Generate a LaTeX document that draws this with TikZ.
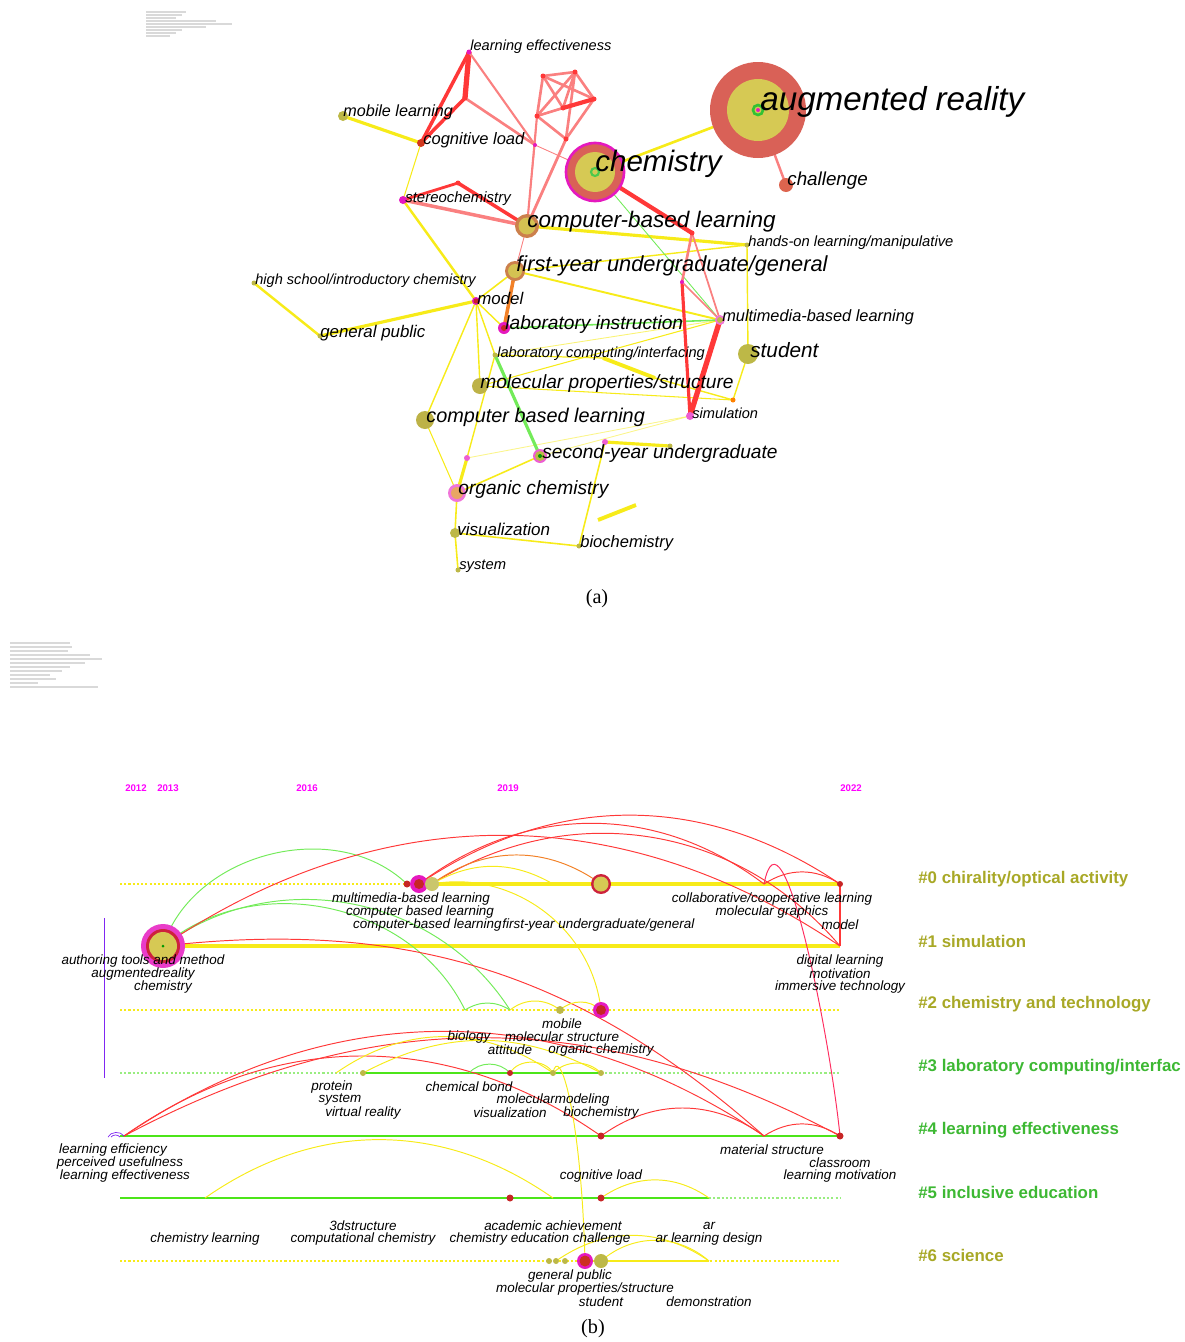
\documentclass[tikz,border=0pt]{standalone}
\usepackage{fontspec}
\setmainfont{Liberation Serif}
\setsansfont{Liberation Sans}
\usepackage{xcolor}
\usepackage{tikz}
\definecolor{LinkRed}{rgb}{1,0.22,0.22}
\definecolor{LinkPink}{rgb}{0.98,0.5,0.5}
\definecolor{LinkYellow}{rgb}{0.97,0.92,0.1}
\definecolor{LinkGreen}{rgb}{0.45,0.92,0.35}
\definecolor{LinkOrange}{rgb}{0.95,0.5,0.15}
\definecolor{RingRed}{rgb}{0.85,0.38,0.34}
\definecolor{RingBrown}{rgb}{0.8,0.5,0.3}
\definecolor{CoreOlive}{rgb}{0.84,0.79,0.33}
\definecolor{DotOlive}{rgb}{0.74,0.72,0.28}
\definecolor{NodeMagenta}{rgb}{0.9,0.1,0.75}
\definecolor{DotRed}{rgb}{0.78,0.15,0.15}
\definecolor{YearMagenta}{rgb}{1,0,1}
\definecolor{ClusterOlive}{rgb}{0.66,0.66,0.15}
\definecolor{ClusterGreen}{rgb}{0.24,0.72,0.2}
\definecolor{RowGreen}{rgb}{0.3,0.9,0.1}
\definecolor{PaleGreen}{rgb}{0.6,0.93,0.5}
\definecolor{Violet}{rgb}{0.5,0.15,0.95}
\tikzset{
  kw/.style={font=\sffamily\itshape\fontsize{#1}{#1}\selectfont, anchor=west, inner sep=0pt, yshift=-1.3pt},
  tl/.style={font=\sffamily\itshape\fontsize{7.65}{7.65}\selectfont, inner sep=0pt, yshift=-0.9pt},
  cluster/.style={font=\sffamily\bfseries\fontsize{9.6}{9.6}\selectfont, anchor=west, inner sep=0pt},
  year/.style={font=\sffamily\bfseries\fontsize{5.5}{5.5}\selectfont, YearMagenta, inner sep=0pt},
  redE/.style={LinkRed, line width=#1},
  pinkE/.style={LinkPink, line width=#1},
  yelE/.style={LinkYellow, line width=#1},
  grnE/.style={LinkGreen, line width=#1},
  dotrow/.style={line width=0.6pt, dash pattern=on 1.2pt off 1.2pt},
  tlarc/.style={line width=0.55pt},
}
\newcommand{\dotat}[3]{\fill[#2] (#1) circle (#3);}

\begin{document}
\begin{tikzpicture}[x=0.02cm, y=0.02cm]
	\useasboundingbox (0,0) rectangle (1185,-1342);
	
	% parameter notes (unreadable small print)
	\foreach \yy/\ww in {12/40, 15/36, 18/30, 21/70, 24/86, 27/60, 30/36, 33/30, 36/24}
		\draw[gray!30, line width=0.6pt] (146,-\yy) -- ++(\ww,0);
	\foreach \yy/\ww in {643/60, 647/62, 651/58, 655/80, 659/92, 663/75, 667/60, 671/52, 675/40, 679/46, 683/28, 687/88}
		\draw[gray!30, line width=0.6pt] (10,-\yy) -- ++(\ww,0);
	
	%%%%%%%%%%%%%%%% (a) network %%%%%%%%%%%%%%%%
	\coordinate (ar) at (758,-110);
	\coordinate (chal) at (786,-185);
	\coordinate (chem) at (595,-172);
	\coordinate (le) at (469,-52);
	\coordinate (lk) at (465,-98);
	\coordinate (ml) at (343,-116);
	\coordinate (cl) at (421,-143);
	\coordinate (pa) at (543,-76);
	\coordinate (pb) at (575,-72);
	\coordinate (pc) at (594,-99);
	\coordinate (pd) at (563,-108);
	\coordinate (pe) at (537,-116);
	\coordinate (pf) at (566,-139);
	\coordinate (hub) at (535,-145);
	\coordinate (st) at (403,-200);
	\coordinate (sb) at (458,-183);
	\coordinate (cbl) at (527,-226);
	\coordinate (kn1) at (692,-233);
	\coordinate (kn2) at (682,-282);
	\coordinate (hands) at (747,-245);
	\coordinate (fy) at (515,-271);
	\coordinate (hs) at (254,-283);
	\coordinate (mod) at (476,-301);
	\coordinate (gp) at (320,-336);
	\coordinate (li) at (504,-328);
	\coordinate (mm) at (720,-320);
	\coordinate (lc) at (495,-355);
	\coordinate (stu) at (748,-354);
	\coordinate (mp) at (480,-386);
	\coordinate (cbl2) at (425,-420);
	\coordinate (sim) at (690,-416);
	\coordinate (od) at (733,-400);
	\coordinate (lcs) at (603,-358);
	\coordinate (lcm) at (655,-378);
	\coordinate (sy) at (540,-456);
	\coordinate (md1) at (605,-442);
	\coordinate (od2) at (670,-446);
	\coordinate (md2) at (467,-458);
	\coordinate (oc) at (457,-493);
	\coordinate (vis) at (455,-533);
	\coordinate (bio) at (579,-546);
	\coordinate (sys) at (458,-570);
	\coordinate (ys1) at (598,-520);
	\coordinate (ys2) at (636,-505);
	
	% links
	\draw[yelE=0.5pt, opacity=0.5] (sy) -- (sim);
	\draw[yelE=0.5pt, opacity=0.5] (md2) -- (sim);
	\draw[yelE=0.5pt, opacity=0.6] (lc) -- (mm);
	\draw[yelE=0.6pt] (mp) -- (mm);
	\draw[yelE=0.6pt] (mp) -- (od);
	\draw[yelE=1.5pt] (ar) -- (chem);
	\draw[yelE=1.8pt] (ml) -- (cl);
	\draw[yelE=0.6pt] (cl) -- (st);
	\draw[yelE=1.4pt] (st) -- (mod);
	\draw[yelE=1.8pt] (cbl) -- (hands);
	\draw[yelE=0.8pt] (fy) -- (hands);
	\draw[yelE=0.8pt] (hands) -- (stu);
	\draw[yelE=1.1pt] (fy) -- (mm);
	\draw[yelE=0.9pt] (fy) -- (mod);
	\draw[yelE=1.4pt] (hs) -- (gp);
	\draw[yelE=1.8pt] (gp) -- (mod);
	\draw[yelE=0.8pt] (mod) -- (li);
	\draw[yelE=0.8pt] (mod) -- (lc);
	\draw[yelE=0.8pt] (mod) -- (mp);
	\draw[yelE=0.8pt] (mod) -- (cbl2);
	\draw[yelE=0.7pt] (lc) -- (lcs);
	\draw[yelE=2.2pt] (lcs) -- (lcm);
	\draw[yelE=0.8pt] (lcm) -- (od);
	\draw[yelE=0.8pt] (stu) -- (od);
	\draw[yelE=0.6pt] (cbl2) -- (oc);
	\draw[yelE=1.8pt] (oc) -- (md2);
	\draw[yelE=0.8pt] (md2) -- (lc);
	\draw[yelE=0.9pt] (oc) -- (sy);
	\draw[yelE=0.9pt] (oc) -- (vis);
	\draw[yelE=0.9pt] (vis) -- (bio);
	\draw[yelE=0.9pt] (vis) -- (sys);
	\draw[yelE=0.9pt] (bio) -- (md1);
	\draw[yelE=1.8pt] (md1) -- (od2);
	\draw[yelE=2.2pt] (ys1) -- (ys2);
	\draw[grnE=0.9pt] (li) -- (mm);
	\draw[grnE=1.8pt] (lc) -- (sy);
	\draw[grnE=0.5pt] (chem) -- (mm);
	\draw[LinkOrange, line width=2pt] (fy) -- (li);
	
	\draw[redE=3pt] (le) -- (lk);
	\draw[redE=2pt] (le) -- (cl);
	\draw[redE=2pt] (lk) -- (cl);
	\draw[pinkE=1.5pt] (lk) -- (hub);
	\draw[pinkE=1.2pt] (le) -- (hub);
	\foreach \a/\b in {pa/pb, pb/pc, pa/pc, pa/pd, pb/pd, pa/pe, pb/pe, pe/pf, pb/pf, pc/pf, pe/pd}
		\draw[pinkE=1.5pt] (\a) -- (\b);
	\draw[redE=2.4pt] (pc) -- (pd);
	\draw[pinkE=1.6pt] (pf) -- (cbl);
	\draw[pinkE=1.2pt] (pe) -- (cbl);
	\draw[pinkE=0.5pt] (hub) -- (cbl);
	\draw[pinkE=0.5pt] (hub) -- (chem);
	\draw[pinkE=0.5pt] (pe) -- (hub);
	\draw[redE=2.4pt] (chem) -- (kn1);
	\draw[pinkE=1.5pt] (kn1) -- (kn2);
	\draw[pinkE=1pt] (kn1) -- (mm);
	\draw[redE=1.8pt] (kn2) -- (sim);
	\draw[pinkE=1pt] (kn2) -- (mm);
	\draw[redE=3pt] (mm) -- (sim);
	\draw[pinkE=1.4pt] (ar) -- (chal);
	\draw[pinkE=2pt] (st) -- (cbl);
	\draw[redE=1.6pt] (st) -- (sb);
	\draw[redE=2pt] (sb) -- (cbl);
	\draw[pinkE=0.5pt] (cbl) -- (fy);
	
	% keyword circles
	\dotat{ar}{RingRed}{48}
	\dotat{ar}{CoreOlive}{31}
	\draw[green!70!black!80, line width=1.5pt] (ar) circle (5);
	\dotat{ar}{NodeMagenta}{2}
	\draw[NodeMagenta, line width=1.5pt, fill=RingRed] (chem) circle (29);
	\dotat{chem}{CoreOlive}{20}
	\draw[green!70!black!70, line width=1.2pt] (chem) circle (4);
	\dotat{cbl}{RingBrown}{12}
	\dotat{cbl}{CoreOlive!90!brown}{8.5}
	\dotat{fy}{RingBrown}{10}
	\dotat{fy}{CoreOlive!90!brown}{7}
	\dotat{chal}{RingRed!90!orange}{7}
	\dotat{stu}{DotOlive}{10}
	\dotat{mp}{DotOlive!90!brown}{8}
	\dotat{cbl2}{DotOlive!90!brown}{9}
	\dotat{sy}{NodeMagenta!70}{7}
	\dotat{sy}{DotOlive}{5}
	\dotat{sy}{green!60!black}{2}
	\dotat{oc}{NodeMagenta!60}{9}
	\dotat{oc}{orange!50!brown!70}{6}
	\dotat{li}{NodeMagenta}{6}
	\dotat{li}{DotRed}{3}
	\dotat{mm}{NodeMagenta!60}{5}
	\dotat{mm}{DotOlive}{3}
	\dotat{sim}{NodeMagenta!70}{4}
	\dotat{mod}{NodeMagenta}{4}
	\dotat{mod}{DotRed}{2.5}
	\dotat{st}{NodeMagenta}{4}
	\dotat{cl}{DotRed!80!orange}{4}
	\dotat{ml}{DotOlive}{5}
	\dotat{vis}{DotOlive}{5}
	\dotat{od}{orange}{2.5}
	\dotat{md1}{NodeMagenta!70}{3}
	\dotat{md2}{NodeMagenta!70}{3}
	\dotat{le}{NodeMagenta}{2.5}
	\dotat{hub}{NodeMagenta}{2}
	\dotat{kn2}{NodeMagenta}{2}
	\foreach \p in {hands, hs, gp, lc, od2, bio, sys}
		{\dotat{\p}{DotOlive}{2.5}}
	\foreach \p in {lk, pa, pb, pc, pd, pe, pf, kn1, sb}
		{\dotat{\p}{LinkRed}{2.5}}
	
	% keyword labels
	\node[kw=8.3] (leL) at (470,-44) {learning effectiveness};
	\node[kw=9.2] (mlL) at (343,-110) {mobile learning};
	\node[kw=9.4] (clL) at (423,-138) {cognitive load};
	\node[kw=8.5] (stL) at (405,-196) {stereochemistry};
	\node[kw=12.8] (cblL) at (527,-219) {computer-based learning};
	\node[kw=16.8] (chemL) at (595,-162) {chemistry};
	\node[kw=18.9] (arL) at (760,-100) {augmented reality};
	\node[kw=10.7] (chalL) at (787,-178) {challenge};
	\node[kw=8.4] (handsL) at (748,-240) {hands-on learning/manipulative};
	\node[kw=12.4] (fyL) at (516,-264) {first-year undergraduate/general};
	\node[kw=8.3] (hsL) at (255,-278) {high school/introductory chemistry};
	\node[kw=9.6] (modL) at (477,-296) {model};
	\node[kw=9.6] (gpL) at (320,-331) {general public};
	\node[kw=10.9] (liL) at (505,-322) {laboratory instruction};
	\node[kw=9.3] (mmL) at (722,-315) {multimedia-based learning};
	\node[kw=8.3] (lcL) at (497,-351) {laboratory computing/interfacing};
	\node[kw=11.8] (stuL) at (750,-348) {student};
	\node[kw=10.9] (mpL) at (480,-381) {molecular properties/structure};
	\node[kw=11.3] (cbl2L) at (426,-415) {computer based learning};
	\node[kw=8.3] (simL) at (692,-411) {simulation};
	\node[kw=10.9] (syL) at (542,-451) {second-year undergraduate};
	\node[kw=10.9] (ocL) at (458,-487) {organic chemistry};
	\node[kw=9.7] (visL) at (457,-527) {visualization};
	\node[kw=9.4] (bioL) at (580,-541) {biochemistry};
	\node[kw=8.4] (sysL) at (459,-564) {system};
	
	\node[font=\fontsize{11.5}{12}\selectfont, inner sep=0pt] (capA) at (597,-599) {(a)};
	
	%%%%%%%%%%%%%%%% (b) timeline %%%%%%%%%%%%%%%%
	\node[year] (y12) at (136,-788) {2012};
	\node[year] (y13) at (168,-788) {2013};
	\node[year] (y16) at (307,-788) {2016};
	\node[year] (y19) at (508,-788) {2019};
	\node[year] (y22) at (851,-788) {2022};
	
	\coordinate (r0s) at (120,-884); \coordinate (r0a) at (407,-884);
	\coordinate (r0b) at (419,-884); \coordinate (r0c) at (432,-884);
	\coordinate (r0x) at (553,-884); \coordinate (r0f) at (601,-884);
	\coordinate (r0d) at (764,-884); \coordinate (r0e) at (840,-884);
	\coordinate (big) at (163,-946); \coordinate (r1e) at (840,-946);
	\coordinate (r2s) at (120,-1010); \coordinate (r2a) at (465,-1010);
	\coordinate (r2b) at (510,-1010); \coordinate (r2c) at (560,-1010);
	\coordinate (r2d) at (601,-1010); \coordinate (r2e) at (840,-1010);
	\coordinate (r3s) at (120,-1073); \coordinate (r3p) at (336,-1073);
	\coordinate (r3a) at (363,-1073); \coordinate (r3x) at (469,-1073);
	\coordinate (r3b) at (510,-1073); \coordinate (r3c) at (553,-1073);
	\coordinate (r3d) at (601,-1073); \coordinate (r3e) at (840,-1073);
	\coordinate (q) at (124,-1136); \coordinate (r4s) at (120,-1136);
	\coordinate (r4b) at (601,-1136); \coordinate (r4c) at (764,-1136);
	\coordinate (r4d) at (840,-1136);
	\coordinate (r5s) at (120,-1198); \coordinate (r5a) at (205,-1198);
	\coordinate (r5b) at (510,-1198); \coordinate (r5c) at (553,-1198);
	\coordinate (r5d) at (601,-1198); \coordinate (r5e) at (709,-1198);
	\coordinate (r5f) at (840,-1198);
	\coordinate (r6s) at (120,-1261); \coordinate (r6x) at (556,-1261);
	\coordinate (r6b) at (585,-1261); \coordinate (r6c) at (601,-1261);
	\coordinate (r6e) at (709,-1261); \coordinate (r6f) at (840,-1261);
	\coordinate (vt) at (104,-918); \coordinate (vb) at (104,-1078);
	
	% cluster rows
	\draw[dotrow, LinkYellow] (r0s) -- (r0c);
	\draw[LinkYellow, line width=1.8pt] (r0c) -- (r0e);
	\draw[LinkYellow, line width=1.8pt] (big) -- (r1e);
	\draw[dotrow, LinkYellow] (r2s) -- (r2e);
	\draw[dotrow, PaleGreen] (r3s) -- (r3a);
	\draw[RowGreen, line width=1.5pt] (r3a) -- (r3d);
	\draw[dotrow, PaleGreen] (r3d) -- (r3e);
	\draw[RowGreen, line width=1.6pt] (r4s) -- (r4d);
	\draw[RowGreen, line width=1.6pt] (r5s) -- (r5e);
	\draw[dotrow, PaleGreen] (r5e) -- (r5f);
	\draw[dotrow, LinkYellow] (r6s) -- (r6f);
	\draw[LinkYellow, line width=1.6pt] (r6c) -- (r6e);
	\draw[Violet, line width=0.5pt] (vt) -- (vb);
	
	% co-occurrence arcs
	\draw[tlarc, LinkGreen] (big) to[bend left=58] (r0a);
	\draw[tlarc, LinkGreen] (big) to[bend left=47] (r2b);
	\draw[tlarc, LinkGreen] (big) to[bend left=52] (r2a);
	\draw[tlarc, LinkRed] (big) to[bend left=34] (r1e);
	\draw[tlarc, LinkRed] (big) to[bend left=24] (r4c);
	\draw[tlarc, LinkRed] (r0b) to[bend left=34] (r0e);
	\draw[tlarc, LinkRed] (r0b) to[bend left=37] (r0d);
	\draw[tlarc, LinkRed] (r0c) to[bend left=41] (r1e);
	\draw[tlarc, LinkOrange] (r0c) to[bend left=36] (r0f);
	\draw[tlarc, LinkYellow] (r0c) to[bend left=30] (r0x);
	\draw[tlarc, LinkYellow] (r0c) to[bend left=47] (r2d);
	\draw[tlarc, LinkRed!80!magenta] (r0d) .. controls +(18,90) and +(-10,100) .. (r4d);
	\draw[tlarc, LinkRed] (r0d) to[bend left=33] (r0e);
	\draw[LinkRed, line width=0.8pt] (r0e) -- (r1e);
	\draw[tlarc, LinkRed] (q) to[bend left=34] (r4c);
	\draw[tlarc, LinkRed] (q) to[bend left=28] (r4d);
	\draw[tlarc, LinkRed] (q) to[bend left=35] (r4b);
	\draw[tlarc, LinkRed] (r4b) to[bend left=36] (r4c);
	\draw[tlarc, LinkRed] (r4c) to[bend left=33] (r4d);
	\draw[tlarc, LinkGreen] (r2a) to[bend left=32] (r2b);
	\draw[tlarc, LinkYellow] (r2b) to[bend left=38] (r2c);
	\draw[tlarc, LinkYellow] (r2c) to[bend left=42] (r2d);
	\draw[tlarc, LinkYellow] (r3p) to[bend left=35] (r3c);
	\draw[tlarc, LinkYellow] (r3a) to[bend left=28] (r3d);
	\draw[tlarc, LinkGreen] (r3x) to[bend left=48] (r3b);
	\draw[tlarc, LinkYellow] (r3b) to[bend left=60] (r3c);
	\draw[tlarc, LinkYellow] (r3c) to[bend left=45] (r3d);
	\draw[tlarc, LinkYellow] (r3c) .. controls +(6,30) and +(-4,150) .. (r6b);
	\draw[tlarc, LinkYellow] (r5a) to[bend left=35] (r5c);
	\draw[tlarc, LinkYellow] (r5d) to[bend left=35] (r5e);
	\draw[tlarc, LinkYellow] (r6x) to[bend left=35] (r6e);
	\draw[tlarc, LinkYellow] (r6c) to[bend left=41] (r6e);
	\draw[Violet, line width=0.4pt] (108,-1137) to[bend left=60] (q);
	\draw[Violet, line width=0.4pt] (111,-1137) to[bend left=50] (120,-1137);
	
	% timeline circles
	\dotat{big}{NodeMagenta!85}{22}
	\dotat{big}{DotRed!90!magenta}{17}
	\dotat{big}{CoreOlive}{14}
	\dotat{big}{green!60!black}{1.5}
	\dotat{r0a}{DotRed}{3.5}
	\dotat{r0b}{NodeMagenta}{9}
	\dotat{r0b}{DotRed}{5}
	\dotat{r0c}{DotOlive!80}{7}
	\dotat{r0f}{DotRed!90!magenta}{10}
	\dotat{r0f}{CoreOlive}{7.5}
	\dotat{r0e}{DotRed}{3}
	\dotat{r2c}{DotOlive}{4}
	\dotat{r2d}{NodeMagenta}{8}
	\dotat{r2d}{DotRed}{5}
	\dotat{r3a}{DotOlive}{3}
	\dotat{r3b}{DotRed}{3}
	\dotat{r3c}{DotOlive}{3}
	\dotat{r3d}{DotOlive}{3}
	\dotat{r4b}{DotRed}{3.5}
	\dotat{r4d}{DotRed}{3.5}
	\dotat{r5b}{DotRed}{3.5}
	\dotat{r5d}{DotRed}{3.5}
	\foreach \xx in {549,556,565}
		\fill[DotOlive] (\xx,-1261) circle (3);
	\dotat{r6b}{NodeMagenta}{8}
	\dotat{r6b}{DotRed!90!orange}{5.5}
	\dotat{r6c}{DotOlive}{7}
	
	% timeline labels
	\node[tl] (t01) at (411,-897) {multimedia-based learning};
	\node[tl] (t02) at (420,-910) {computer based learning};
	\node[tl, anchor=east] (t03) at (502,-923) {computer-based learning};
	\node[tl, anchor=west] (t04) at (502,-923) {first-year undergraduate/general};
	\node[tl] (t05) at (772,-897) {collaborative/cooperative learning};
	\node[tl] (t06) at (772,-910) {molecular graphics};
	\node[tl] (t07) at (840,-923) {model};
	\node[tl] (t11) at (143,-959) {authoring tools and method};
	\node[tl] (t12) at (143,-972) {augmentedreality};
	\node[tl] (t13) at (163,-985) {chemistry};
	\node[tl] (t14) at (840,-959) {digital learning};
	\node[tl] (t15) at (840,-972) {motivation};
	\node[tl] (t16) at (840,-985) {immersive technology};
	\node[tl] (t21) at (562,-1022) {mobile};
	\node[tl] (t22) at (469,-1035) {biology};
	\node[tl] (t23) at (562,-1035) {molecular structure};
	\node[tl] (t24) at (510,-1048) {attitude};
	\node[tl] (t25) at (601,-1048) {organic chemistry};
	\node[tl] (t31) at (332,-1085) {protein};
	\node[tl] (t32) at (340,-1098) {system};
	\node[tl] (t33) at (363,-1111) {virtual reality};
	\node[tl] (t34) at (469,-1085) {chemical bond};
	\node[tl] (t35) at (553,-1098) {molecularmodeling};
	\node[tl] (t36) at (510,-1111) {visualization};
	\node[tl] (t37) at (601,-1111) {biochemistry};
	\node[tl] (t41) at (113,-1148) {learning efficiency};
	\node[tl] (t42) at (120,-1161) {perceived usefulness};
	\node[tl] (t43) at (125,-1174) {learning effectiveness};
	\node[tl] (t44) at (772,-1148) {material structure};
	\node[tl] (t45) at (840,-1161) {classroom};
	\node[tl] (t46) at (840,-1174) {learning motivation};
	\node[tl] (t47) at (601,-1174) {cognitive load};
	\node[tl] (t51) at (205,-1237) {chemistry learning};
	\node[tl] (t52) at (363,-1224) {3dstructure};
	\node[tl] (t53) at (363,-1237) {computational chemistry};
	\node[tl] (t54) at (553,-1224) {academic achievement};
	\node[tl] (t55) at (540,-1237) {chemistry education challenge};
	\node[tl] (t56) at (709,-1224) {ar};
	\node[tl] (t57) at (709,-1237) {ar learning design};
	\node[tl] (t61) at (570,-1274) {general public};
	\node[tl] (t62) at (585,-1287) {molecular properties/structure};
	\node[tl] (t63) at (601,-1300) {student};
	\node[tl] (t64) at (709,-1300) {demonstration};
	
	% cluster names
	\node[cluster, ClusterOlive] (c0) at (918,-879) {\#0 chirality/optical activity};
	\node[cluster, ClusterOlive] (c1) at (918,-941) {\#1 simulation};
	\node[cluster, ClusterOlive] (c2) at (918,-1004) {\#2 chemistry and technology};
	\node[cluster, ClusterGreen] (c3) at (918,-1067) {\#3 laboratory computing/interfac};
	\node[cluster, ClusterGreen] (c4) at (918,-1130) {\#4 learning effectiveness};
	\node[cluster, ClusterGreen] (c5) at (918,-1192) {\#5 inclusive education};
	\node[cluster, ClusterOlive] (c6) at (918,-1255) {\#6 science};
	
	\node[font=\fontsize{11.5}{12}\selectfont, inner sep=0pt] (capB) at (593,-1329) {(b)};
\end{tikzpicture}
\end{document}
